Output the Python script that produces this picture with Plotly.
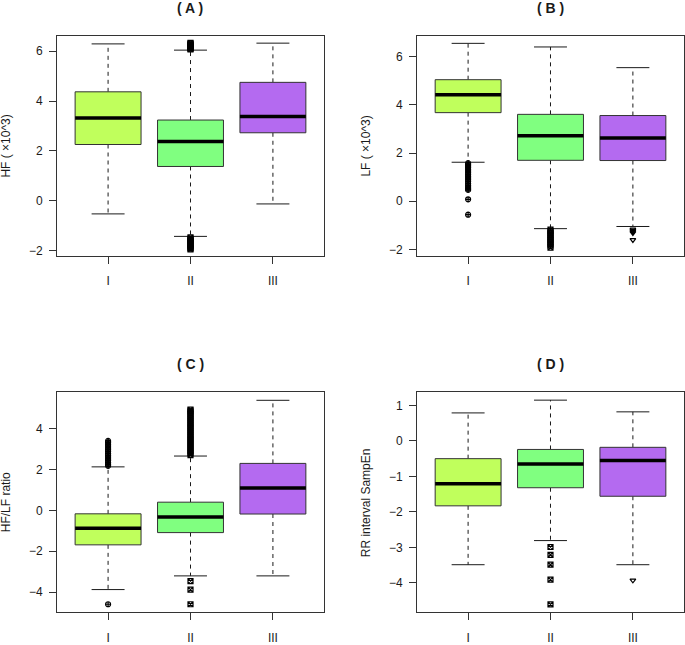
import plotly.graph_objects as go

# groups and colours
groups = ['I', 'II', 'III']
box_colors = ['rgb(192,255,92)', 'rgb(128,255,128)', 'rgb(180,106,240)']
outlier_symbols = ['circle-cross-open', 'square-x-open', 'triangle-down-open']

# panel labels / axis titles
panel_titles = ['( A )', '( B )', '( C )', '( D )']
y_titles = ['HF ( \u00d710^3)', 'LF ( \u00d710^3)', 'HF/LF ratio', 'RR interval SampEn']

# five-number summaries: [lower whisker, Q1, median, Q3, upper whisker]
hf_stats = [[-0.52, 2.26, 3.32, 4.37, 6.29],
            [-1.42, 1.38, 2.38, 3.24, 6.04],
            [-0.12, 2.73, 3.38, 4.75, 6.32]]
lf_stats = [[1.62, 3.68, 4.42, 5.05, 6.56],
            [-1.14, 1.70, 2.72, 3.61, 6.41],
            [-1.05, 1.69, 2.63, 3.56, 5.55]]
ratio_stats = [[-3.88, -1.69, -0.88, -0.17, 2.13],
               [-3.21, -1.09, -0.33, 0.40, 2.66],
               [-3.21, -0.18, 1.09, 2.30, 5.39]]
sampen_stats = [[-3.49, -1.83, -1.21, -0.50, 0.79],
                [-2.81, -1.32, -0.65, -0.24, 1.15],
                [-3.49, -1.56, -0.55, -0.18, 0.82]]

# outliers
hf_out = [[],
          [6.07, 6.10, 6.12, 6.15, 6.18, 6.21, 6.24, 6.27, 6.30, 6.33,
           -1.46, -1.51, -1.55, -1.60, -1.66, -1.71, -1.76, -1.80, -1.86, -1.90, -1.94],
          []]
lf_out = [[1.58, 1.52, 1.46, 1.40, 1.33, 1.26, 1.18, 1.11, 1.04, 0.97, 0.89,
           0.82, 0.74, 0.66, 0.59, 0.52, 0.47, 0.08, -0.56],
          [-1.18, -1.24, -1.31, -1.39, -1.46, -1.54, -1.61, -1.69, -1.76, -1.84, -1.93],
          [-1.17, -1.22, -1.27, -1.32, -1.61]]
ratio_out = [[2.18, 2.26, 2.35, 2.44, 2.52, 2.61, 2.70, 2.79, 2.88, 2.97, 3.06, 3.15, 3.24, 3.33, 3.40,
              -4.60],
             [2.71, 2.80, 2.90, 3.00, 3.10, 3.20, 3.30, 3.40, 3.50, 3.60, 3.70, 3.80, 3.90,
              4.00, 4.10, 4.20, 4.30, 4.40, 4.50, 4.60, 4.70, 4.80, 4.88, 4.94,
              -3.47, -3.88, -4.60],
             []]
sampen_out = [[],
              [-2.99, -3.21, -3.49, -3.91, -4.61],
              [-3.93]]

all_stats = [hf_stats, lf_stats, ratio_stats, sampen_stats]
all_out = [hf_out, lf_out, ratio_out, sampen_out]

y_ranges = [[-2.19, 6.62], [-2.26, 6.88], [-4.99, 5.78], [-4.83, 1.37]]
y_dticks = [2, 2, 2, 1]

# panel placement (paper coords)
x_domains = [[0.0832, 0.473], [0.6088, 0.9985], [0.0832, 0.473], [0.6088, 0.9985]]
y_domains = [[0.6, 0.9442], [0.6, 0.9442], [0.0419, 0.386], [0.0419, 0.386]]

font_family = 'Liberation Sans, Arial, sans-serif'
ink = '#1a1a1a'

fig = go.Figure()

for p in range(4):
    xa = 'x' if p == 0 else 'x%d' % (p + 1)
    ya = 'y' if p == 0 else 'y%d' % (p + 1)
    for g in range(3):
        lo, q1, med, q3, hi = all_stats[p][g]
        xc = g + 1
        # whiskers (dashed)
        fig.add_trace(go.Scatter(x=[xc, xc, None, xc, xc], y=[q3, hi, None, q1, lo],
                                 mode='lines', line=dict(color=ink, width=1, dash='4px,4px'),
                                 xaxis=xa, yaxis=ya, showlegend=False, hoverinfo='skip'))
        # caps
        fig.add_trace(go.Scatter(x=[xc - 0.2, xc + 0.2, None, xc - 0.2, xc + 0.2],
                                 y=[hi, hi, None, lo, lo],
                                 mode='lines', line=dict(color=ink, width=1),
                                 xaxis=xa, yaxis=ya, showlegend=False, hoverinfo='skip'))
        # box
        fig.add_trace(go.Scatter(x=[xc - 0.4, xc + 0.4, xc + 0.4, xc - 0.4, xc - 0.4],
                                 y=[q1, q1, q3, q3, q1], fill='toself',
                                 fillcolor=box_colors[g], mode='lines',
                                 line=dict(color='#333333', width=1),
                                 xaxis=xa, yaxis=ya, showlegend=False, hoverinfo='skip'))
        # median
        fig.add_trace(go.Scatter(x=[xc - 0.4, xc + 0.4], y=[med, med], mode='lines',
                                 line=dict(color='black', width=3.5),
                                 xaxis=xa, yaxis=ya, showlegend=False, hoverinfo='skip'))
        # outliers
        outs = all_out[p][g]
        if outs:
            fig.add_trace(go.Scatter(x=[xc] * len(outs), y=outs, mode='markers',
                                     marker=dict(symbol=outlier_symbols[g], size=5,
                                                 color='black', line=dict(color='black', width=1.2)),
                                     xaxis=xa, yaxis=ya, showlegend=False))

axis_common = dict(showline=True, mirror=True, linecolor='#333333', linewidth=1,
                   ticks='outside', ticklen=7, tickcolor='#333333', showgrid=False,
                   zeroline=False, tickfont=dict(family=font_family, size=12, color=ink))

layout = dict(width=685, height=645, margin=dict(l=0, r=0, t=0, b=0),
              plot_bgcolor='white', paper_bgcolor='white', showlegend=False,
              font=dict(family=font_family, color=ink))
annotations = []
for p in range(4):
    xk = 'xaxis' if p == 0 else 'xaxis%d' % (p + 1)
    yk = 'yaxis' if p == 0 else 'yaxis%d' % (p + 1)
    ya = 'y' if p == 0 else 'y%d' % (p + 1)
    xa = 'x' if p == 0 else 'x%d' % (p + 1)
    layout[xk] = dict(axis_common, domain=x_domains[p], anchor=ya, range=[0.38, 3.62],
                      tickvals=[1, 2, 3], ticktext=groups, ticklabelstandoff=7)
    layout[yk] = dict(axis_common, domain=y_domains[p], anchor=xa, range=y_ranges[p],
                      dtick=y_dticks[p], tick0=0, ticklabelstandoff=4)
    xmid = (x_domains[p][0] + x_domains[p][1]) / 2
    annotations.append(dict(text='<b>%s</b>' % panel_titles[p], xref='paper', yref='paper',
                            x=xmid, y=y_domains[p][1] + 0.044, xanchor='center', yanchor='middle',
                            showarrow=False, font=dict(family=font_family, size=14, color=ink)))
    annotations.append(dict(text=y_titles[p], xref='paper', yref='paper', textangle=-90,
                            x=x_domains[p][0] - 0.0745, y=(y_domains[p][0] + y_domains[p][1]) / 2,
                            xanchor='center', yanchor='middle', showarrow=False,
                            font=dict(family=font_family, size=12, color=ink)))
layout['annotations'] = annotations

fig.update_layout(**layout)
# drop the browser's default body margin so the figure sits at the page corner
fig.write_html("out.html", config={'displayModeBar': False},
               post_script="document.body.style.margin='0';")
